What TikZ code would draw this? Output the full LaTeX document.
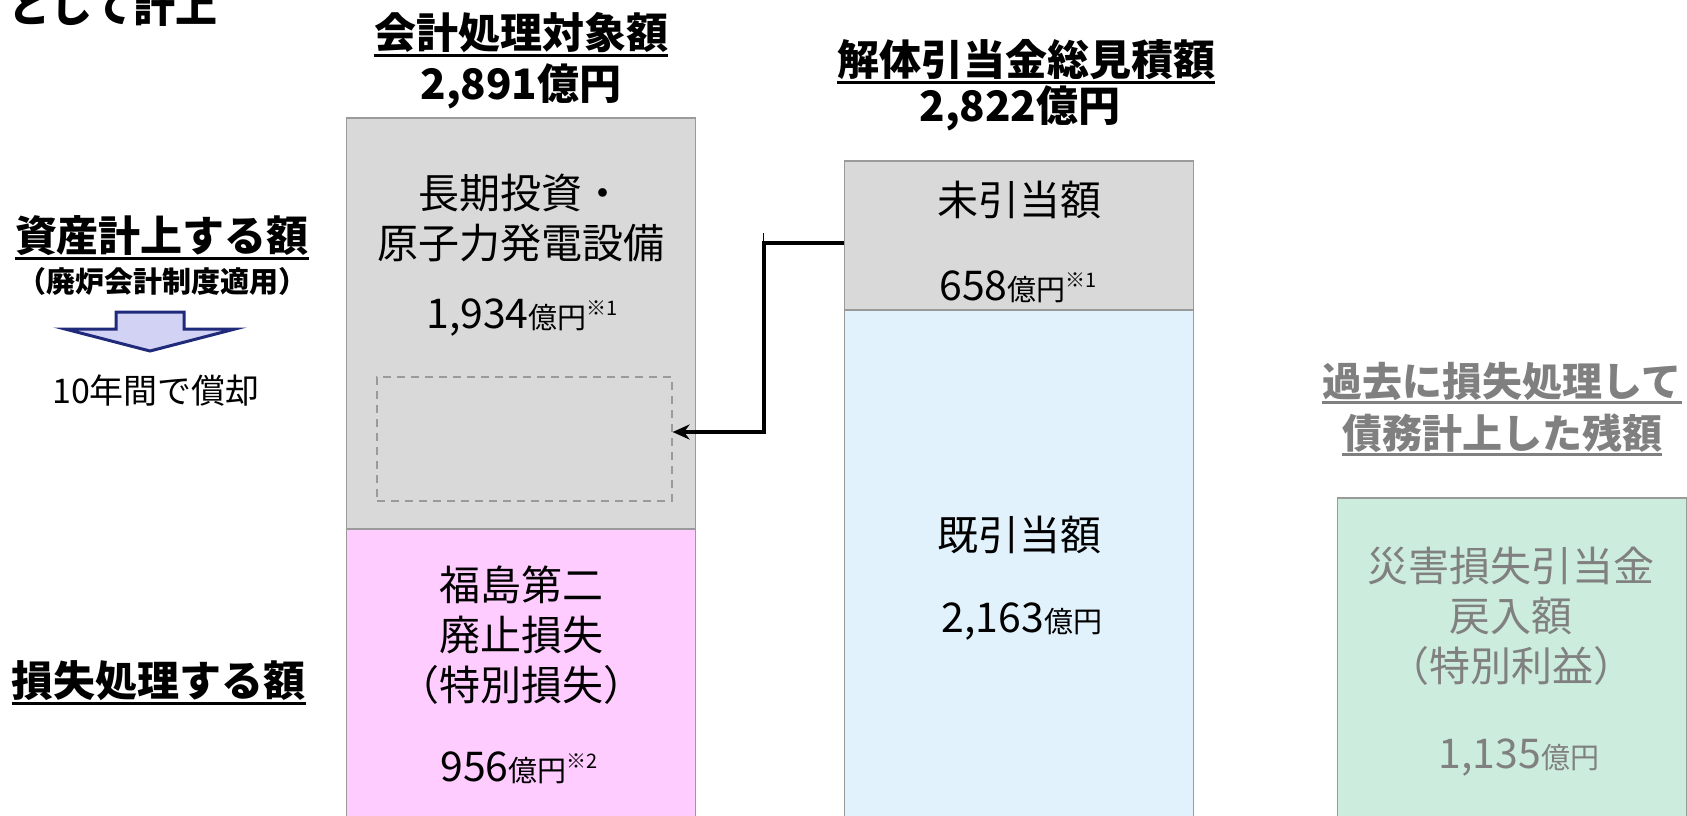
\documentclass[tikz,border=0pt]{standalone}
\usepackage{fontspec}
\setmainfont{Noto Sans CJK JP}
\usetikzlibrary{arrows.meta}

\definecolor{boxgray}{HTML}{D9D9D9}
\definecolor{boxpink}{HTML}{FFCCFF}
\definecolor{boxblue}{HTML}{E1F2FC}
\definecolor{boxgreen}{HTML}{CCEDDD}
\definecolor{edgegray}{HTML}{9A9A9A}
\definecolor{textgray}{HTML}{808080}
\definecolor{arrowfill}{HTML}{D2D2F5}
\definecolor{arrownavy}{HTML}{1F2A7A}

\newcommand{\oku}{{\fontsize{29}{29}\selectfont 億円}}
\newcommand{\kome}[1]{\raisebox{13pt}{\fontsize{20}{20}\selectfont ※#1}}

\begin{document}
\begin{tikzpicture}[x=1pt,y=-1pt,>={Stealth[length=17pt,width=15pt]},
    block/.style={draw=edgegray,line width=1.5pt,minimum width=349pt,inner sep=0pt},
    big/.style={font=\fontsize{41}{50}\selectfont,align=center,inner sep=0pt},
    head/.style={font=\bfseries\fontsize{42}{48}\selectfont,inner sep=0pt},
    uline/.style={line width=2.5pt}]
  \useasboundingbox (0,0) rectangle (1687,815);
  \clip (0,0) rectangle (1687,815);

  % the three columns
  \node[block,fill=boxgray,minimum height=411pt] (asset) at (521,323.5) {};
  \node[block,fill=boxpink,minimum height=301pt] (loss) at (521,679.5) {};
  \node[draw=edgegray,line width=1.2pt,dash pattern=on 8pt off 6pt,
        minimum width=295pt,minimum height=124pt] (amort) at (524.5,439) {};
  \node[block,fill=boxgray,minimum height=149pt] (unalloc) at (1019,235.5) {};
  \node[block,fill=boxblue,minimum height=520pt] (alloc) at (1019,570) {};
  \node[block,fill=boxgreen,minimum height=332pt] (reversal) at (1512,664) {};

  % headings
  \node[head] (topnote) at (113,7) {として計上};
  \node[head] (hdA) at (521,33) {会計処理対象額};
  \node[head] (sumA) at (521,86) {2,891億円};
  \node[head] (hdB) at (1026,60) {解体引当金総見積額};
  \node[head] (sumB) at (1020,108) {2,822億円};
  \node[head] (assetlbl) at (162,236) {資産計上する額};
  \node[font=\bfseries\fontsize{29}{34}\selectfont,inner sep=0pt] (rule) at (162,281) {（廃炉会計制度適用）};
  \node[big,font=\fontsize{34}{40}\selectfont] (tenyr) at (156,391) {10年間で償却};
  \node[head] (losslbl) at (159,681) {損失処理する額};
  \node[head,font=\bfseries\fontsize{40}{48}\selectfont,text=textgray] (pastA) at (1502,381) {過去に損失処理して};
  \node[head,font=\bfseries\fontsize{40}{48}\selectfont,text=textgray] (pastB) at (1502,433) {債務計上した残額};
  \foreach \n in {hdA,hdB,assetlbl,losslbl}
    \draw[uline] ([yshift=-2pt]\n.south west) -- ([yshift=-2pt]\n.south east);
  \foreach \n in {pastA,pastB}
    \draw[uline,textgray] ([yshift=-2pt]\n.south west) -- ([yshift=-2pt]\n.south east);

  % block texts
  \node[big] (assetname) at (521,218.5) {長期投資・\\原子力発電設備};
  \node[big] (assetamt) at (522,318) {1,934\oku\kome{1}};
  \node[big] (lossname) at (521,635) {福島第二\\廃止損失\\（特別損失）};
  \node[big] (lossamt) at (519,768) {956\oku\kome{2}};
  \node[big] (unallocname) at (1019,200) {未引当額};
  \node[big] (unallocamt) at (1018,287) {658\oku\kome{1}};
  \node[big] (allocname) at (1019,535) {既引当額};
  \node[big] (allocamt) at (1022,622) {2,163\oku};
  \node[big,text=textgray] (revname) at (1511,616) {災害損失引当金\\戻入額\\（特別利益）};
  \node[big,text=textgray] (revamt) at (1519,757) {1,135\oku};

  % 10 year arrow
  \filldraw[fill=arrowfill,draw=arrownavy,line width=3pt]
    (116,312) -- (184,312) -- (184,329) -- (235,329) -- (150,351) -- (65,329) -- (116,329) -- cycle;

  % unallocated part goes to the asset
  \draw[->,line width=4.5pt] ([yshift=-7.5pt]unalloc.west) -- ++(-80,0) coordinate (bend)
    |- ([yshift=7pt]amort.east);
  \draw[line width=1pt] (bend) -- ++(0,-10);
\end{tikzpicture}
\end{document}
